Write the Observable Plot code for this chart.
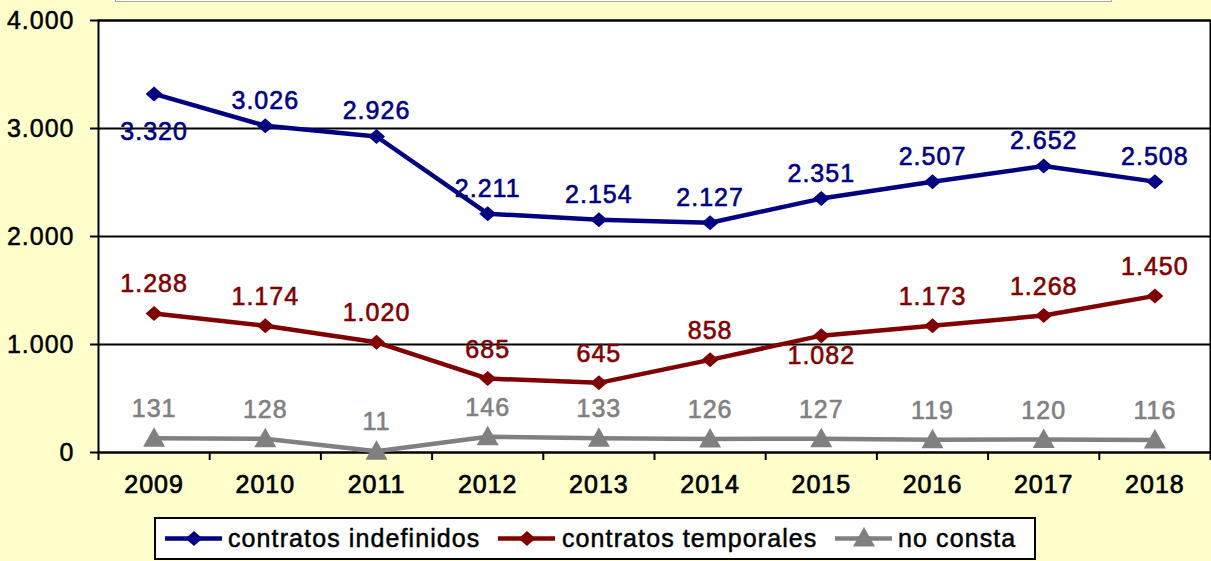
<!DOCTYPE html>
<html>
<head>
<meta charset="utf-8">
<script src="https://cdn.jsdelivr.net/npm/d3@7"></script>
<script src="https://cdn.jsdelivr.net/npm/@observablehq/plot@0.6"></script>
<style>
  html, body { margin: 0; padding: 0; }
  body { width: 1211px; height: 561px; background: #FFFFCC; position: relative; overflow: hidden; font-family: "Liberation Sans", Arial, sans-serif; }
  #topbox { position: absolute; left: 115px; top: -40px; width: 995px; height: 40px; background: #fff; border: 1px solid #a8a8a0; }
  #chart svg text { letter-spacing: 1px; }
  #legend { position: absolute; left: 154px; top: 517px; width: 882px; height: 43px; box-sizing: border-box; border: 2px solid #000; background: #fff; }
  .item { position: absolute; top: 0; height: 39px; display: flex; align-items: center; }
  .item span { font-size: 25px; letter-spacing: 1.1px; color: #000; -webkit-text-stroke: 0.5px #000; }
  .sw { position: absolute; top: 0; }
</style>
</head>
<body>
<div id="topbox"></div>
<div id="chart"></div>
<div id="legend"></div>
<script>
const years = [2009, 2010, 2011, 2012, 2013, 2014, 2015, 2016, 2017, 2018];
const indefinidos = [3320, 3026, 2926, 2211, 2154, 2127, 2351, 2507, 2652, 2508];
const temporales = [1288, 1174, 1020, 685, 645, 858, 1082, 1173, 1268, 1450];
const noConsta = [131, 128, 11, 146, 133, 126, 127, 119, 120, 116];
const seriesNames = ["contratos indefinidos", "contratos temporales", "no consta"];
const seriesColors = ["#000080", "#800000", "#808080"];
const yTicks = [0, 1000, 2000, 3000, 4000];
// labels drawn below their point instead of above
const labelsBelow = [["contratos indefinidos", 2009], ["contratos temporales", 2015]];

const fmt = d3.formatLocale({decimal: ",", thousands: ".", grouping: [3], currency: ["", "€"]}).format(",");

const seriesValues = [indefinidos, temporales, noConsta];
const table = seriesNames.flatMap((s, k) => years.map((yr, i) => ({series: s, year: yr, value: seriesValues[k][i]})));
const isBelow = d => labelsBelow.some(([s, y]) => s === d.series && y === d.year);

const boundaries = [years[0] - 0.5, ...years.map(y => y + 0.5)];

const diamond = {draw(ctx) { ctx.moveTo(0, -7.5); ctx.lineTo(8.5, 0); ctx.lineTo(0, 7.5); ctx.lineTo(-8.5, 0); ctx.closePath(); }};
const triangle = {draw(ctx) { ctx.moveTo(0, -11); ctx.lineTo(11, 8.5); ctx.lineTo(-11, 8.5); ctx.closePath(); }};
const symbols = [diamond, diamond, triangle];

const font = "Liberation Sans";
const labelDy = [-25, -29, -29];
const belowDy = [38, 20, 20];

const marks = [
  Plot.frame({fill: "white", stroke: null}),
  Plot.gridY(yTicks, {stroke: "black", strokeOpacity: 1, strokeWidth: 2}),
  Plot.frame({stroke: "black", strokeWidth: 2}),
  Plot.axisY(yTicks, {tickSize: 8, tickFormat: () => "", strokeWidth: 2}),
  Plot.text(yTicks, {y: d => d, frameAnchor: "left", dx: -24, textAnchor: "end", text: d => fmt(d), fontSize: 25, fill: "black", stroke: "black", strokeWidth: 0.5, fontFamily: font}),
  Plot.axisX(boundaries, {tickSize: 8, tickFormat: () => "", strokeWidth: 2}),
  Plot.text(years, {x: d => d, frameAnchor: "bottom", dy: 40, text: d => String(d), fontSize: 25, fill: "black", stroke: "black", strokeWidth: 0.7, fontFamily: font}),
  Plot.line(table, {x: "year", y: "value", z: "series", stroke: "series", strokeWidth: 4.5})
];
seriesNames.forEach((s, k) => {
  const rows = table.filter(d => d.series === s);
  marks.push(Plot.dot(rows, {x: "year", y: "value", symbol: () => symbols[k], fill: seriesColors[k], stroke: null}));
  marks.push(Plot.text(rows.filter(d => !isBelow(d)), {x: "year", y: "value", text: d => fmt(d.value), dy: labelDy[k], fontSize: 25, fill: seriesColors[k], stroke: seriesColors[k], strokeWidth: 0.6, fontFamily: font}));
  marks.push(Plot.text(rows.filter(isBelow), {x: "year", y: "value", text: d => fmt(d.value), dy: belowDy[k], fontSize: 25, fill: seriesColors[k], stroke: seriesColors[k], strokeWidth: 0.6, fontFamily: font}));
});

const chart = Plot.plot({
  width: 1211,
  height: 517,
  marginTop: 20,
  marginBottom: 65,
  marginLeft: 98,
  marginRight: 1,
  style: {background: "transparent", fontFamily: font},
  x: {type: "linear", domain: [years[0] - 0.5, years[years.length - 1] + 0.5], label: null},
  y: {domain: [0, 4000], label: null},
  color: {domain: seriesNames, range: seriesColors},
  marks
});
document.getElementById("chart").appendChild(chart);

// legend
const legend = document.getElementById("legend");
const swLeft = [9, 342, 679];
const textLeft = [72, 406, 742];
seriesNames.forEach((s, k) => {
  const sw = d3.create("svg").attr("class", "sw").attr("width", 58).attr("height", 39).style("left", swLeft[k] + "px");
  sw.append("line").attr("x1", 0).attr("x2", 57).attr("y1", 19.5).attr("y2", 19.5).attr("stroke", seriesColors[k]).attr("stroke-width", 4.5);
  const p = d3.path(); symbols[k].draw(p);
  sw.append("path").attr("d", p.toString()).attr("transform", `translate(29,${k === 2 ? 19 : 19.5})`).attr("fill", seriesColors[k]);
  legend.appendChild(sw.node());
  const it = document.createElement("div");
  it.className = "item"; it.style.left = textLeft[k] + "px";
  const sp = document.createElement("span"); sp.textContent = s;
  it.appendChild(sp); legend.appendChild(it);
});
</script>
</body>
</html>
